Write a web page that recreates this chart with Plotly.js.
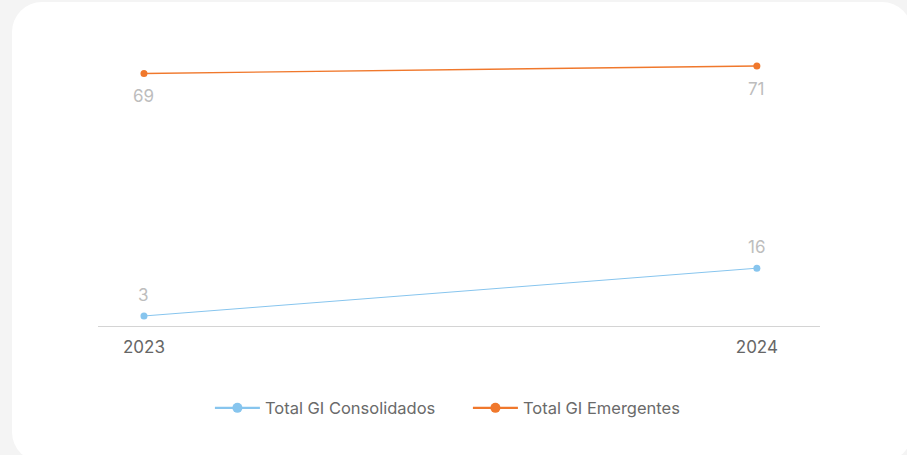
<!DOCTYPE html>
<html>
<head>
<meta charset="utf-8">
<script src="https://cdn.plot.ly/plotly-3.0.1.min.js"></script>
<style>
html,body{margin:0;padding:0;background:#f4f4f4;width:907px;height:455px;overflow:hidden;}
#card{position:absolute;left:12px;top:2px;width:900px;height:460px;background:#fff;border-radius:30px;}
#chart{position:absolute;left:0;top:0;width:907px;height:455px;}
</style>
</head>
<body>
<div id="card"></div>
<div id="chart"></div>
<script>
const years = ['2023', '2024'];
const consolidados = [3, 16];
const emergentes = [69, 71];
const seriesNames = ['Total GI Consolidados', 'Total GI Emergentes'];
const seriesColors = ['#87c5ee', '#f0782c'];

const FONT = 'Inter, Roboto, sans-serif';

const traces = [
  {
    x: years, y: consolidados, name: seriesNames[0],
    type: 'scatter', mode: 'lines+markers', showlegend: false,
    line: {color: seriesColors[0], width: 1},
    marker: {color: seriesColors[0], size: 7},
    cliponaxis: false
  },
  {
    x: years, y: emergentes, name: seriesNames[1],
    type: 'scatter', mode: 'lines+markers', showlegend: false,
    line: {color: seriesColors[1], width: 1.4},
    marker: {color: seriesColors[1], size: 7},
    cliponaxis: false
  },
  // legend entries (no data drawn)
  {
    x: [null], y: [null], name: seriesNames[0], type: 'scatter', mode: 'lines+markers',
    line: {color: seriesColors[0], width: 2.2}, marker: {color: seriesColors[0], size: 10}
  },
  {
    x: [null], y: [null], name: seriesNames[1], type: 'scatter', mode: 'lines+markers',
    line: {color: seriesColors[1], width: 2.2}, marker: {color: seriesColors[1], size: 10}
  }
];

// data labels: category index i is the position of years[i] on the category axis
const annotations = [];
years.forEach((yr, i) => {
  annotations.push({x: i, y: consolidados[i], xref: 'x', yref: 'y', text: String(consolidados[i]),
    showarrow: false, yshift: 21, font: {family: FONT, size: 17, color: '#bdbdbd'}});
  annotations.push({x: i, y: emergentes[i], xref: 'x', yref: 'y', text: String(emergentes[i]),
    showarrow: false, yshift: -23, font: {family: FONT, size: 17, color: '#bdbdbd'}});
});

const layout = {
  width: 907, height: 455,
  paper_bgcolor: 'rgba(0,0,0,0)', plot_bgcolor: 'rgba(0,0,0,0)',
  margin: {l: 98, r: 87, t: 33, b: 128},
  font: {family: FONT, color: '#666'},
  showlegend: true,
  annotations: annotations,
  shapes: [{type: 'line', xref: 'paper', x0: 0, x1: 1, yref: 'y', y0: 0, y1: 0,
            line: {color: '#a9a9a9', width: 1}, layer: 'below'}],
  legend: {orientation: 'h', x: 0.155, xanchor: 'left', y: -0.276, yanchor: 'middle',
           font: {size: 16.5, color: '#6a6a6a'}, traceorder: 'normal', itemwidth: 45,
           entrywidth: 198},
  xaxis: {type: 'category', range: [-0.075, 1.103], showgrid: false, zeroline: false,
          showline: false, ticks: '',
          tickfont: {size: 17, color: '#666'}, ticklabelstandoff: 8, fixedrange: true},
  yaxis: {range: [0, 80], visible: false, showgrid: false, zeroline: false, fixedrange: true}
};

Plotly.newPlot('chart', traces, layout, {displayModeBar: false, staticPlot: true});
</script>
</body>
</html>
